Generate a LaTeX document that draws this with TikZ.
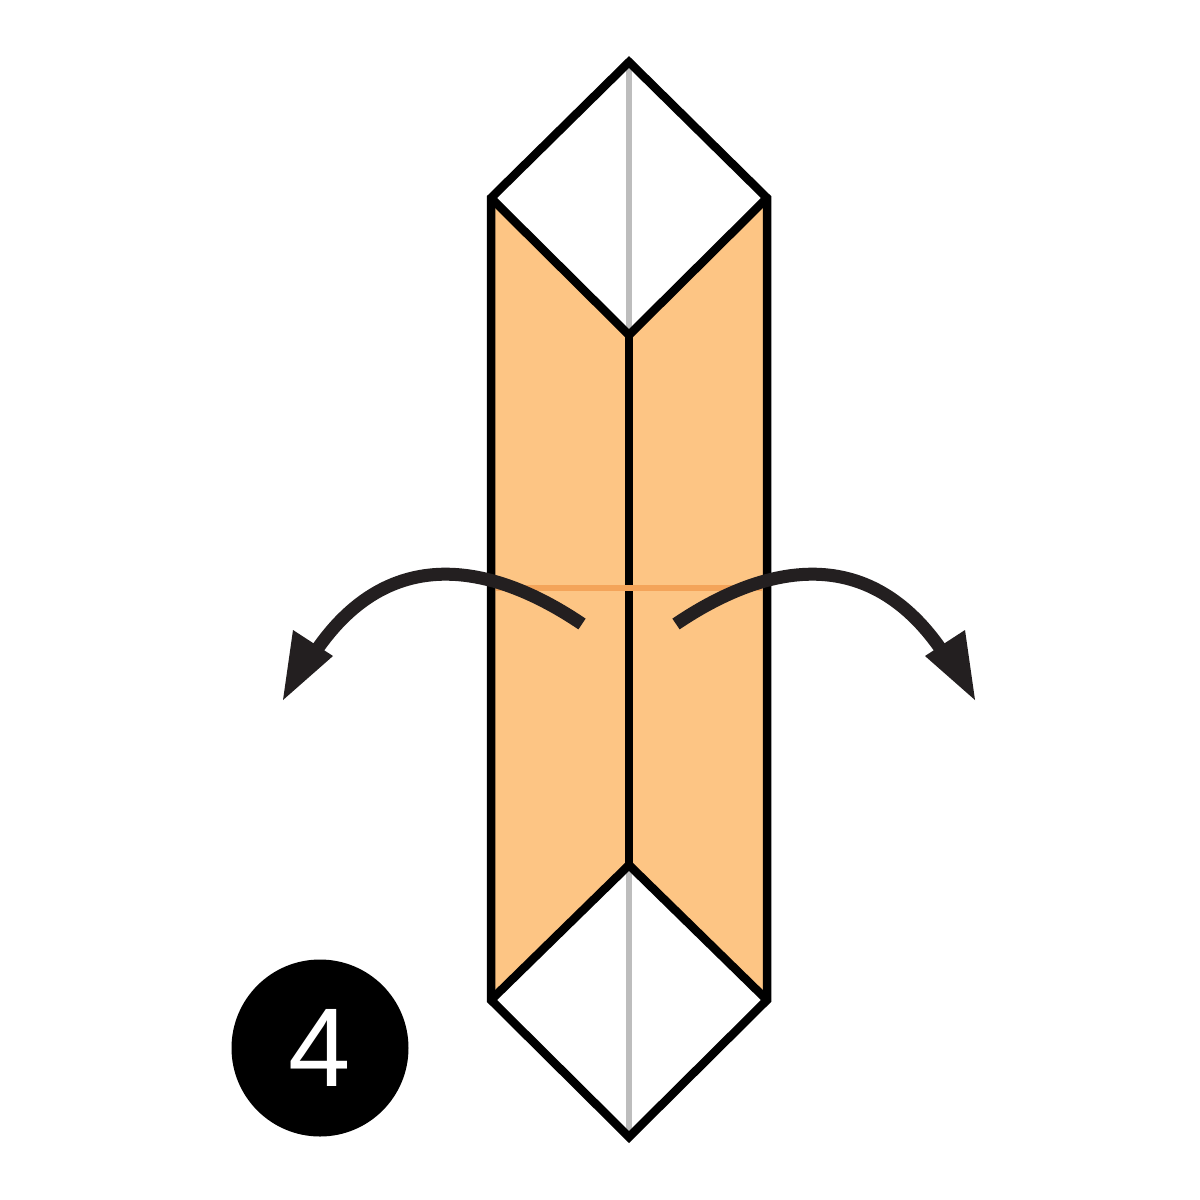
\documentclass[tikz,border=0pt]{standalone}
\usepackage{fontspec}
\setsansfont{Liberation Sans}
\usetikzlibrary{calc}
\definecolor{paper}{HTML}{FDC584}
\definecolor{crease}{HTML}{F4A459}
\definecolor{midline}{HTML}{BDBDBD}
\definecolor{arrowink}{HTML}{231F20}
\begin{document}
\begin{tikzpicture}[x=1pt,y=-1pt,
  edge/.style={black,line width=8.5pt,line join=miter},
  flip/.style={arrowink,line width=13pt}]
\useasboundingbox[fill=white] (0,0) rectangle (1200,1200);
% centre fold, seen only in the white parts
\draw[midline,line width=6pt] (629,62)--(629,1137);
% coloured flaps
\fill[paper] (491,198)--(629,335)--(629,865)--(491,1000)--cycle;
\fill[paper] (767,198)--(629,335)--(629,865)--(767,1000)--cycle;
% outline and folds
\draw[edge] (629,62)--(767,198)--(767,1000)--(629,1137)--(491,1000)--(491,198)--cycle;
\draw[edge] (491,198)--(629,335)--(767,198);
\draw[edge] (491,1000)--(629,865)--(767,1000);
\draw[edge] (629,335)--(629,865);
\draw[crease,line width=5.5pt] (496,588)--(762,588);
% turn-over arrows
\foreach \s in {1,-1} {
 \begin{scope}[shift={(629,0)},xscale=\s]
  \draw[flip] (-47,624) .. controls (-115,578) and (-228,530) .. (-311,648);
  \fill[arrowink] (-336,630)--(-346,700)--(-296,656)--cycle;
 \end{scope}
}
% step number
\node[circle,fill=black,minimum size=177pt,inner sep=0pt] (step) at (320,1048) {};
\node[text=white,font=\sffamily\fontsize{112}{112}\selectfont,inner sep=0pt] (num) at (step.center) {4};
\end{tikzpicture}
\end{document}
